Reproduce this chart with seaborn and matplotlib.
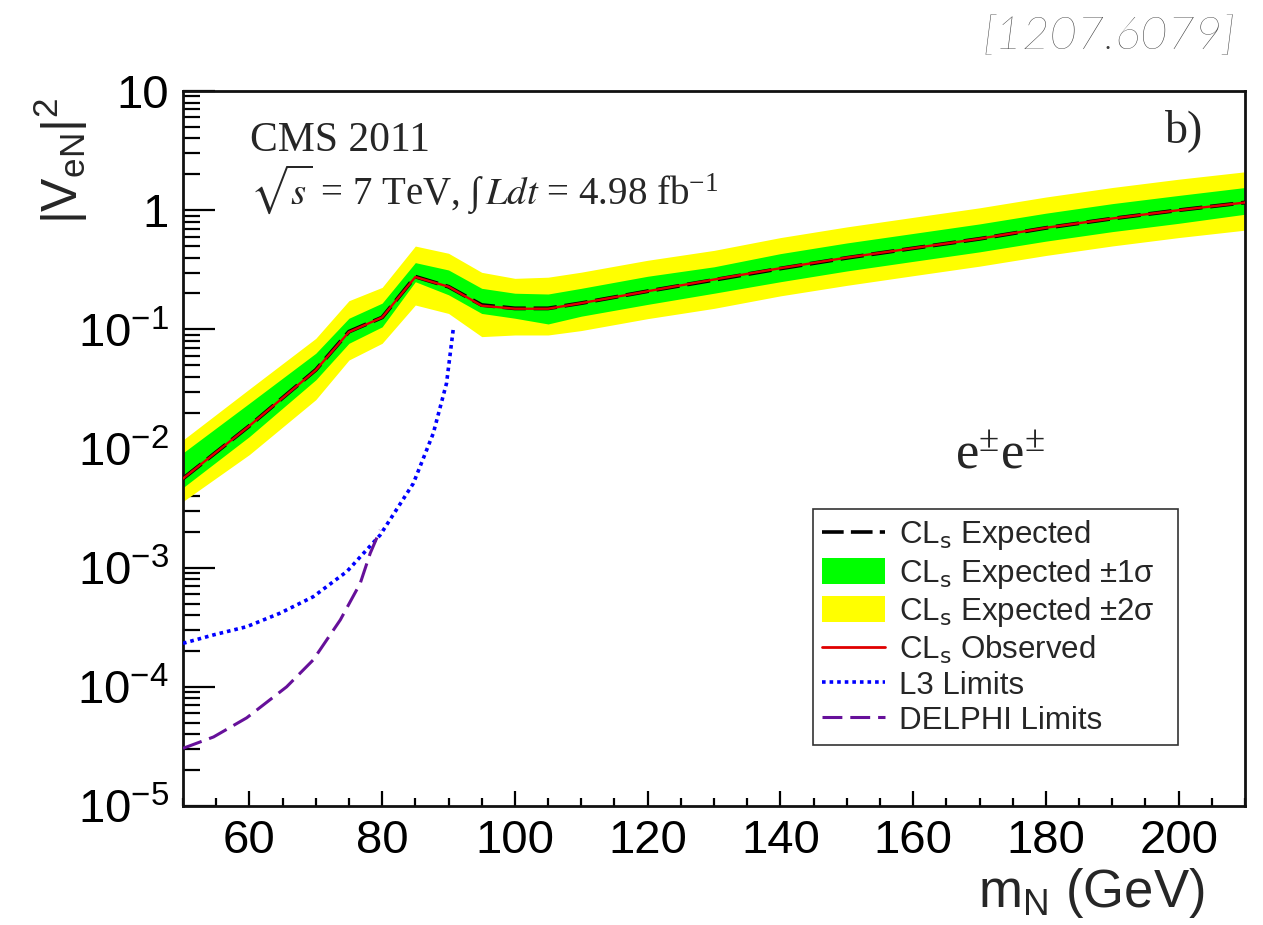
import numpy as np
import pandas as pd
import matplotlib
matplotlib.use("Agg")
import matplotlib.pyplot as plt
from matplotlib.lines import Line2D
from matplotlib.patches import Patch
from matplotlib.ticker import FixedLocator, NullFormatter, FuncFormatter
import seaborn as sns

# Heavy-neutrino mass points (GeV)
mass = [50, 60, 70, 75, 80, 85, 90, 95, 100, 105, 110, 120, 130, 140, 150,
        160, 170, 180, 190, 200, 210]

# CLs expected upper limit on |V_eN|^2 and its +/-1, +/-2 sigma bands
expected = [0.0056, 0.0155, 0.0457, 0.0957, 0.126, 0.277, 0.228, 0.160, 0.150,
            0.150, 0.166, 0.209, 0.260, 0.324, 0.398, 0.479, 0.575, 0.710,
            0.850, 1.00, 1.16]
observed = [0.0056, 0.0155, 0.0455, 0.0950, 0.126, 0.275, 0.228, 0.158, 0.149,
            0.149, 0.166, 0.209, 0.262, 0.326, 0.400, 0.480, 0.576, 0.712,
            0.852, 1.00, 1.16]
plus2 = [0.0118, 0.0316, 0.084, 0.174, 0.225, 0.50, 0.435, 0.301, 0.268, 0.274,
         0.302, 0.380, 0.460, 0.589, 0.724, 0.871, 1.047, 1.29, 1.55, 1.82, 2.10]
plus1 = [0.0092, 0.024, 0.063, 0.124, 0.166, 0.363, 0.315, 0.221, 0.201, 0.198,
         0.221, 0.279, 0.335, 0.432, 0.531, 0.638, 0.767, 0.944, 1.135, 1.33, 1.55]
minus1 = [0.0047, 0.0126, 0.0377, 0.0764, 0.105, 0.251, 0.195, 0.136, 0.124,
          0.111, 0.129, 0.162, 0.201, 0.251, 0.309, 0.372, 0.447, 0.55, 0.661,
          0.776, 0.925]
minus2 = [0.0036, 0.0089, 0.0257, 0.0553, 0.0764, 0.160, 0.136, 0.0869, 0.0897,
          0.0897, 0.0977, 0.123, 0.150, 0.191, 0.234, 0.282, 0.339, 0.417, 0.501,
          0.589, 0.68]

# Earlier LEP limits
l3_mass = [50, 54.6, 59.6, 64.6, 69.6, 74.7, 79.7, 84.7, 87.7, 89.7, 90.7]
l3_limit = [2.32e-4, 2.73e-4, 3.2e-4, 4.15e-4, 5.7e-4, 9.3e-4, 1.88e-3, 5.1e-3,
            1.34e-2, 3.53e-2, 0.099]
delphi_mass = [50, 54.6, 59.6, 65.6, 69.6, 73.7, 76.7, 78.2, 79.7]
delphi_limit = [3.05e-5, 3.8e-5, 5.5e-5, 1.0e-4, 1.68e-4, 3.65e-4, 7.4e-4,
                1.32e-3, 2.07e-3]

x_major = [60, 80, 100, 120, 140, 160, 180, 200]
y_major = [1e-5, 1e-4, 1e-3, 1e-2, 1e-1, 1, 10]

sns.set_style("ticks")
plt.rcParams["font.family"] = ["Liberation Sans", "DejaVu Sans"]
plt.rcParams["mathtext.default"] = "regular"

GREEN = "#00ff00"
YELLOW = "#ffff00"
RED = "#e00000"
BLUE = "#0000ff"
PURPLE = "#66109a"
DELPHI_DASH = (0, (6.5, 2.6))

fig = plt.figure(figsize=(12.63, 9.25), dpi=100)
ax = fig.add_axes([0.1449, 0.1286, 0.8409, 0.773])

df = pd.DataFrame({"m": mass, "exp": expected, "obs": observed,
                   "p2": plus2, "p1": plus1, "m1": minus1, "m2": minus2})

ax.fill_between(df["m"], df["m2"], df["p2"], color=YELLOW, lw=0, zorder=1)
ax.fill_between(df["m"], df["m1"], df["p1"], color=GREEN, lw=0, zorder=2)

sns.lineplot(data=df, x="m", y="exp", ax=ax, color="black", lw=2.8,
             linestyle=(0, (6, 2)), zorder=3)
sns.lineplot(data=df, x="m", y="obs", ax=ax, color=RED, lw=1.7, zorder=4)
sns.lineplot(x=l3_mass, y=l3_limit, ax=ax, color=BLUE, lw=2.6,
             linestyle=(0, (1, 1.1)), zorder=5)
sns.lineplot(x=delphi_mass, y=delphi_limit, ax=ax, color=PURPLE, lw=2.2,
             linestyle=DELPHI_DASH, zorder=5)

ax.set_yscale("log")
ax.set_xlim(50, 210)
ax.set_ylim(1e-5, 10)

def y_fmt(v, pos):
    if v >= 10:
        return "10"
    if abs(v - 1) < 1e-9:
        return "1"
    e = int(round(np.log10(v)))
    return r"$10^{%d}$" % e

ax.xaxis.set_major_locator(FixedLocator(x_major))
ax.xaxis.set_minor_locator(FixedLocator(np.arange(50, 211, 5)))
ax.yaxis.set_major_locator(FixedLocator(y_major))
minor_y = [k * 10.0 ** d for d in range(-5, 1) for k in range(2, 10)]
ax.yaxis.set_minor_locator(FixedLocator(minor_y))
ax.yaxis.set_major_formatter(FuncFormatter(y_fmt))
ax.yaxis.set_minor_formatter(NullFormatter())

ax.tick_params(axis="both", which="both", direction="in", colors="black",
               width=1.6, labelsize=34)
ax.tick_params(axis="y", which="major", length=23, pad=10)
ax.tick_params(axis="y", which="minor", length=12)
ax.tick_params(axis="x", which="major", length=11, pad=9)
ax.tick_params(axis="x", which="minor", length=6)

for side in ["left", "bottom", "right", "top"]:
    ax.spines[side].set_visible(True)
    ax.spines[side].set_linewidth(2.0)
    ax.spines[side].set_color("#111111")

ax.set_xlabel(r"$m_{N}$ (GeV)", fontsize=38, loc="right")
ax.xaxis.set_label_coords(0.962, -0.084)
ax.set_ylabel(r"$|V_{eN}|^{2}$", fontsize=36, loc="top")
ax.yaxis.set_label_coords(-0.088, 0.99)

serif = ["Liberation Serif", "DejaVu Serif"]
ax.text(0.063, 0.931, "CMS 2011", transform=ax.transAxes, fontsize=30,
        family=serif, ha="left", va="center")
ax.text(0.063, 0.862,
        r"$\sqrt{\mathit{s}}$ = 7 TeV, $\int\,\mathit{Ldt}$ = 4.98 fb$^{-1}$",
        transform=ax.transAxes, fontsize=28, family=serif,
        math_fontfamily="stix", ha="left", va="center")
ax.text(0.943, 0.945, "b)", transform=ax.transAxes, fontsize=33,
        family=serif, ha="center", va="center")
ax.text(0.769, 0.491, r"e$^{\pm}$e$^{\pm}$", transform=ax.transAxes,
        fontsize=38, family=serif, math_fontfamily="stix",
        ha="center", va="center")

handles = [
    Line2D([], [], color="black", lw=2.6, linestyle=(0, (6, 2))),
    Patch(facecolor=GREEN, edgecolor="none"),
    Patch(facecolor=YELLOW, edgecolor="none"),
    Line2D([], [], color=RED, lw=2.0),
    Line2D([], [], color=BLUE, lw=2.6, linestyle=(0, (1, 1.1))),
    Line2D([], [], color=PURPLE, lw=2.2, linestyle=DELPHI_DASH),
]
labels = [
    r"CL$_{\mathrm{s}}$ Expected",
    r"CL$_{\mathrm{s}}$ Expected ±1σ",
    r"CL$_{\mathrm{s}}$ Expected ±2σ",
    r"CL$_{\mathrm{s}}$ Observed",
    "L3 Limits",
    "DELPHI Limits",
]
leg = ax.legend(handles, labels, loc="lower left",
                bbox_to_anchor=(0.593, 0.085, 0.344, 0.336), mode="expand",
                fontsize=22.5, frameon=True, fancybox=False, framealpha=1,
                edgecolor="#333333", handlelength=2.0, handleheight=0.9,
                handletextpad=0.45, labelspacing=0.14, borderpad=0.3,
                borderaxespad=0)
leg.get_frame().set_linewidth(1.2)

fig.text(0.978, 0.960, "[1207.6079]", fontsize=34, color="#3c3c3c",
         family=["Lato", "DejaVu Sans"], style="italic", fontweight="light",
         ha="right", va="center")

fig.savefig("out.png", dpi=100, facecolor="white")
